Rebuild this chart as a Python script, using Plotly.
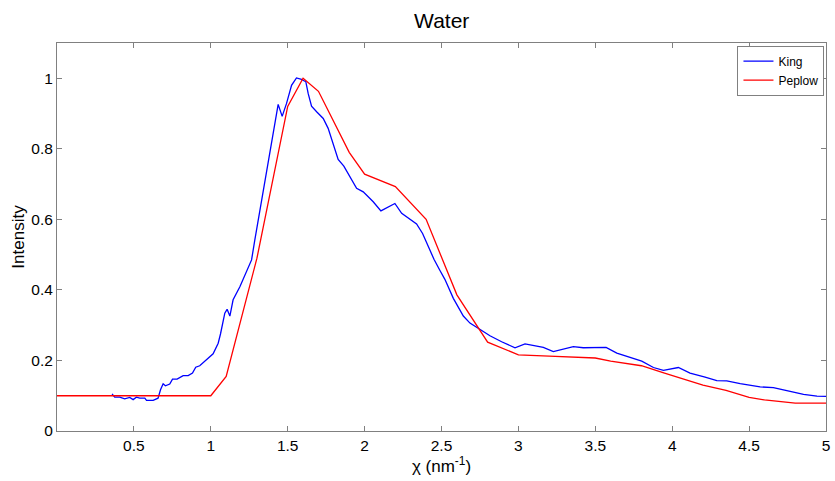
import plotly.graph_objects as go

king_x = [0.358, 0.375, 0.408, 0.44, 0.473, 0.495, 0.516, 0.538, 0.571, 0.582, 0.625, 0.657,
          0.673, 0.69, 0.705, 0.733, 0.751, 0.781, 0.82, 0.853, 0.881, 0.902, 0.928, 0.972,
          1.015, 1.048, 1.063, 1.091, 1.106, 1.124, 1.145, 1.189, 1.221, 1.265, 1.286, 1.319,
          1.351, 1.384, 1.416, 1.438, 1.464, 1.492, 1.525, 1.557, 1.59, 1.618, 1.633, 1.655,
          1.688, 1.731, 1.763, 1.796, 1.828, 1.865, 1.948, 1.991, 2.056, 2.106, 2.197, 2.241,
          2.338, 2.377, 2.451, 2.49, 2.522, 2.577, 2.642, 2.685, 2.75, 2.815, 2.891, 2.978,
          3.043, 3.162, 3.227, 3.357, 3.422, 3.466, 3.57, 3.64, 3.726, 3.802, 3.878, 3.943,
          4.04, 4.116, 4.214, 4.29, 4.355, 4.442, 4.572, 4.658, 4.767, 4.854, 4.941, 5.0]
king_y = [0.105, 0.096, 0.096, 0.091, 0.095, 0.089, 0.096, 0.093, 0.093, 0.087, 0.087, 0.093,
          0.117, 0.134, 0.128, 0.133, 0.147, 0.147, 0.157, 0.157, 0.164, 0.181, 0.185, 0.202,
          0.219, 0.249, 0.275, 0.334, 0.345, 0.326, 0.372, 0.409, 0.442, 0.485, 0.541, 0.626,
          0.711, 0.796, 0.881, 0.926, 0.892, 0.928, 0.98, 1.001, 0.997, 0.99, 0.957, 0.921,
          0.905, 0.886, 0.858, 0.815, 0.77, 0.751, 0.688, 0.678, 0.65, 0.624, 0.645, 0.617,
          0.587, 0.56, 0.487, 0.455, 0.43, 0.376, 0.326, 0.306, 0.287, 0.27, 0.253, 0.236,
          0.247, 0.237, 0.225, 0.239, 0.236, 0.236, 0.237, 0.221, 0.208, 0.198, 0.18, 0.172,
          0.18, 0.164, 0.153, 0.143, 0.142, 0.134, 0.125, 0.123, 0.112, 0.104, 0.099, 0.098]

peplow_x = [0, 1.0, 1.1, 1.3, 1.5, 1.6, 1.7, 1.9, 2.0, 2.2, 2.4, 2.6, 2.8, 3.0, 3.2, 3.4,
            3.5, 3.6, 3.8, 3.95, 4.05, 4.2, 4.35, 4.5, 4.6, 4.8, 5.0]
peplow_y = [0.1, 0.1, 0.155, 0.49, 0.92, 1.0, 0.963, 0.79, 0.728, 0.693, 0.6, 0.386, 0.252,
            0.216, 0.212, 0.21, 0.207, 0.198, 0.185, 0.164, 0.15, 0.13, 0.115, 0.095, 0.088,
            0.079, 0.079]

x_ticks = [0.5, 1, 1.5, 2, 2.5, 3, 3.5, 4, 4.5, 5]
x_tick_text = ["0.5", "1", "1.5", "2", "2.5", "3", "3.5", "4", "4.5", "5"]
y_ticks = [0, 0.2, 0.4, 0.6, 0.8, 1]
y_tick_text = ["0", "0.2", "0.4", "0.6", "0.8", "1"]

fig = go.Figure()
fig.add_trace(go.Scatter(x=king_x, y=king_y, mode="lines", name="King",
                         line=dict(color="#0000ff", width=1.3)))
fig.add_trace(go.Scatter(x=peplow_x, y=peplow_y, mode="lines", name="Peplow",
                         line=dict(color="#ff0000", width=1.3)))

axis_common = dict(showline=True, linecolor="#808080", linewidth=1, mirror="ticks",
                   ticks="inside", ticklen=5, tickcolor="#808080", showgrid=False,
                   zeroline=False, automargin=False,
                   tickfont=dict(size=15.5, color="black"))

fig.update_layout(
    width=835, height=481,
    margin=dict(l=57, r=9, t=43, b=50),
    paper_bgcolor="white", plot_bgcolor="white",
    font=dict(family="Liberation Sans, Arial, sans-serif", color="black"),
    title=dict(text="Water", x=0.529, xanchor="center", y=0.957, yanchor="middle",
               font=dict(size=21)),
    xaxis=dict(range=[0, 5], tickvals=x_ticks, ticktext=x_tick_text,
               title=dict(text="χ (nm<sup>-1</sup>)", font=dict(size=17), standoff=4),
               **axis_common),
    yaxis=dict(range=[0, 1.1], tickvals=y_ticks, ticktext=y_tick_text,
               title=dict(text="Intensity", font=dict(size=17), standoff=2),
               **axis_common),
    legend=dict(x=0.998, y=0.993, xanchor="right", yanchor="top",
                bgcolor="white", bordercolor="#808080", borderwidth=1,
                font=dict(size=12), tracegroupgap=0, itemwidth=30),
    showlegend=True,
)

fig.write_html("out.html", config={"displayModeBar": False},
               post_script="document.body.style.margin='0';document.body.style.padding='0';")
